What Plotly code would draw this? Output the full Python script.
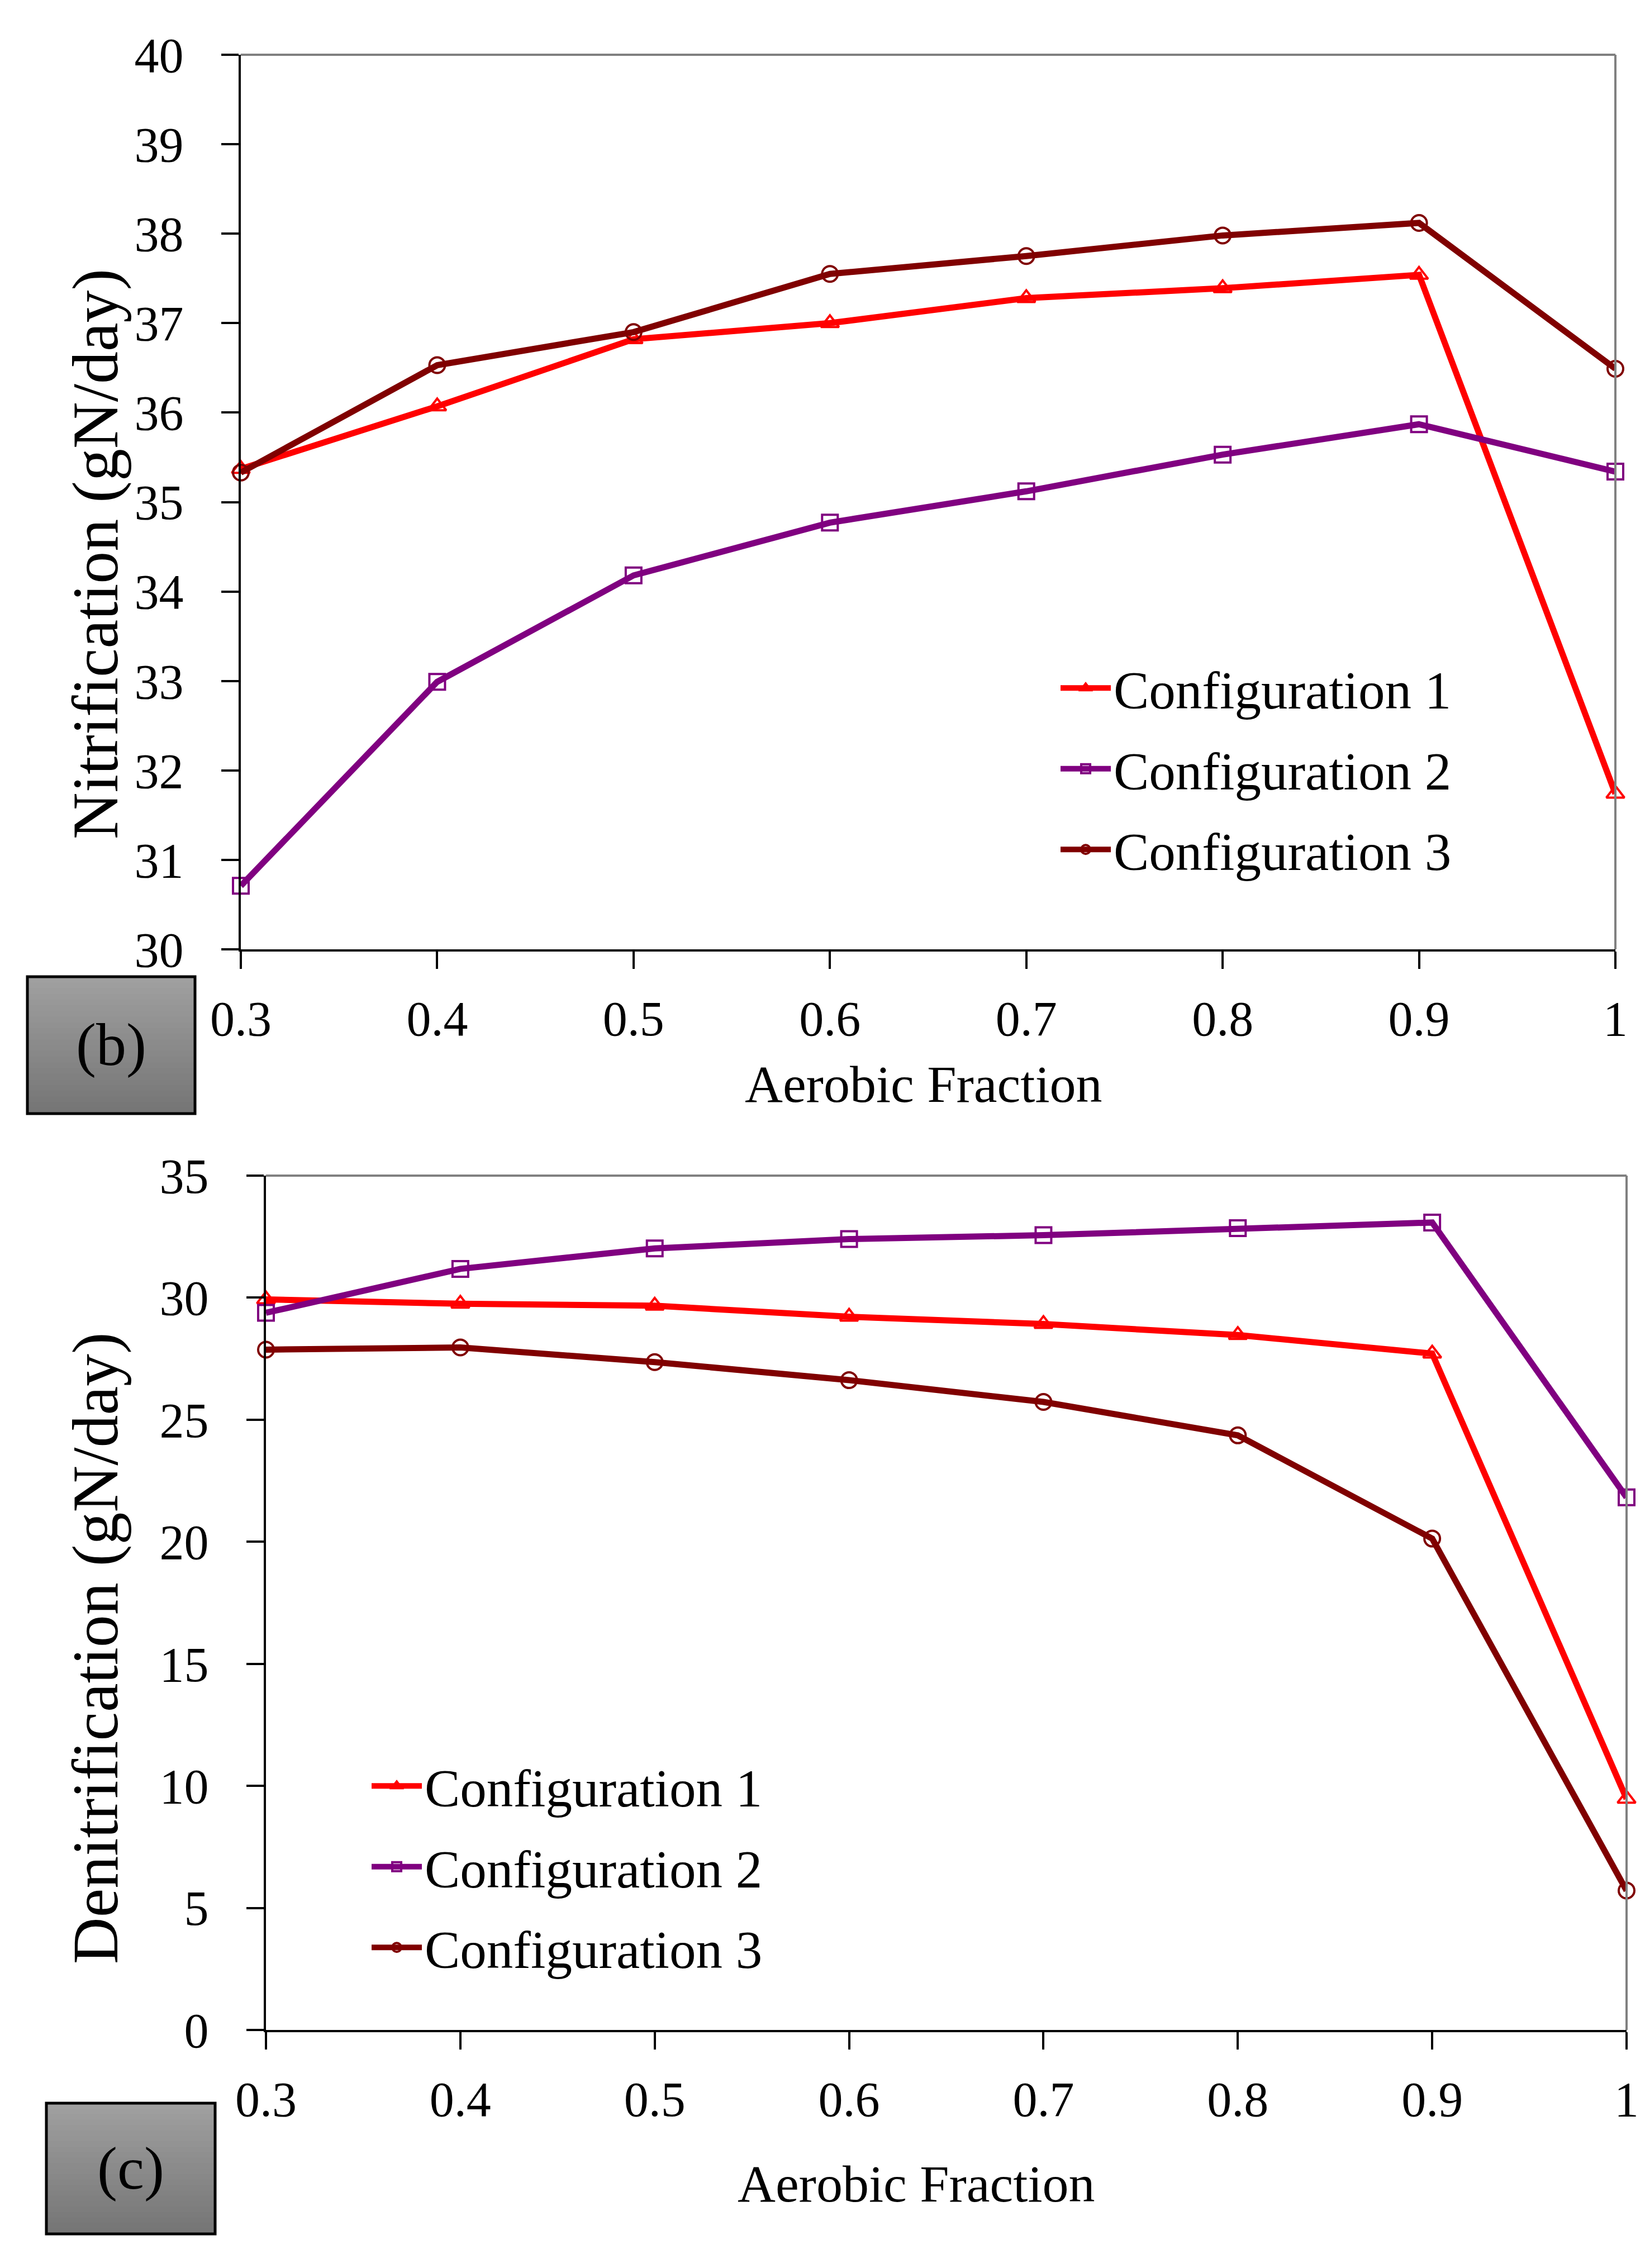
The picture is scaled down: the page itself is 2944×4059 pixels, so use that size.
import plotly.graph_objects as go

W, H = 2944, 4059

# data
aerobic_fraction = [0.3, 0.4, 0.5, 0.6, 0.7, 0.8, 0.9, 1.0]
x_tick_text = ["0.3", "0.4", "0.5", "0.6", "0.7", "0.8", "0.9", "1"]
series_names = ["Configuration 1", "Configuration 2", "Configuration 3"]

nitr_cfg1 = [35.37, 36.07, 36.82, 37.00, 37.28, 37.39, 37.54, 31.74]
nitr_cfg2 = [30.71, 32.99, 34.18, 34.77, 35.12, 35.53, 35.87, 35.34]
nitr_cfg3 = [35.33, 36.53, 36.90, 37.55, 37.75, 37.98, 38.12, 36.49]

denit_cfg1 = [29.93, 29.75, 29.67, 29.22, 28.92, 28.47, 27.71, 9.47]
denit_cfg2 = [29.38, 31.18, 32.02, 32.40, 32.56, 32.85, 33.08, 21.82]
denit_cfg3 = [27.87, 27.96, 27.36, 26.62, 25.73, 24.36, 20.13, 5.71]

colors = ["#ff0000", "#800080", "#800000"]
symbols = ["triangle-up-open", "square-open", "circle-open"]
FONT = "Liberation Serif"


def px_x(p):
    return p / W


def px_y(p):
    return 1 - p / H


fig = go.Figure()

for i, ys in enumerate([nitr_cfg1, nitr_cfg2, nitr_cfg3]):
    fig.add_trace(go.Scatter(
        x=aerobic_fraction, y=ys, name=series_names[i], mode="lines+markers",
        line=dict(color=colors[i], width=11),
        marker=dict(symbol=symbols[i], size=28, color=colors[i], line=dict(width=4, color=colors[i])),
        cliponaxis=False, xaxis="x", yaxis="y", legend="legend", legendgroup="a%d" % i,
    ))

for i, ys in enumerate([denit_cfg1, denit_cfg2, denit_cfg3]):
    fig.add_trace(go.Scatter(
        x=aerobic_fraction, y=ys, name=series_names[i], mode="lines+markers",
        line=dict(color=colors[i], width=11),
        marker=dict(symbol=symbols[i], size=28, color=colors[i], line=dict(width=4, color=colors[i])),
        cliponaxis=False, xaxis="x2", yaxis="y2", legend="legend2", legendgroup="b%d" % i,
    ))

tick_font = dict(family=FONT, size=88, color="black")
xa = dict(range=[0.3, 1.0], tickvals=aerobic_fraction, ticktext=x_tick_text,
          showline=True, linecolor="black", linewidth=4, ticks="outside", ticklen=31,
          tickwidth=4, tickcolor="black", showgrid=False, zeroline=False,
          tickfont=tick_font, ticklabelstandoff=13, automargin=False)
ya = dict(showline=True, linecolor="black", linewidth=4, ticks="outside", ticklen=31,
          tickwidth=4, tickcolor="black", showgrid=False, zeroline=False,
          tickfont=tick_font, ticklabelstandoff=50, automargin=False)

legend_common = dict(xanchor="left", yanchor="top",
                     font=dict(family=FONT, size=95, color="black"), bgcolor="rgba(0,0,0,0)",
                     itemwidth=90, tracegroupgap=18, traceorder="grouped")

fig.update_layout(
    width=W, height=H, autosize=False,
    margin=dict(l=0, r=0, t=0, b=0, autoexpand=False),
    paper_bgcolor="white", plot_bgcolor="white",
    xaxis=dict(xa, domain=[px_x(423), px_x(2883)], anchor="y"),
    yaxis=dict(ya, domain=[px_y(1691), px_y(90)], range=[30, 40], dtick=1, anchor="x"),
    xaxis2=dict(xa, domain=[px_x(468), px_x(2903)], anchor="y2"),
    yaxis2=dict(ya, domain=[px_y(3625), px_y(2096)], range=[0, 35], dtick=5, anchor="x2"),
    legend=dict(legend_common, x=px_x(1885), y=px_y(1155)),
    legend2=dict(legend_common, x=px_x(652), y=px_y(3120)),
)

# grey top/right frame
for xr, yr in [("x domain", "y domain"), ("x2 domain", "y2 domain")]:
    fig.add_shape(type="line", xref=xr, yref=yr, x0=0, x1=1, y0=1, y1=1,
                  line=dict(color="#808080", width=4))
    fig.add_shape(type="line", xref=xr, yref=yr, x0=1, x1=1, y0=0, y1=1,
                  line=dict(color="#808080", width=4))


def note(text, cx, cy, size, angle=0):
    fig.add_annotation(text=text, x=px_x(cx), y=px_y(cy), xref="paper", yref="paper",
                       xanchor="center", yanchor="middle", textangle=angle, showarrow=False,
                       font=dict(family=FONT, size=size, color="black"))


# axis titles
note("Nitrification (gN/day)", 163, 984, 116, -90)
note("Denitrification (gN/day)", 163, 2942, 116, -90)
note("Aerobic Fraction", 1645, 1932, 94)
note("Aerobic Fraction", 1632, 3900, 94)

# grey gradient panel labels
for label, (x0, y0, x1, y1) in [("(b)", (41, 1740, 341, 1985)), ("(c)", (75, 3756, 377, 3990))]:
    n = 24
    for k in range(n):
        g = int(160 - (160 - 118) * k / (n - 1))
        ya0 = y0 + (y1 - y0) * k / n
        ya1 = y0 + (y1 - y0) * (k + 1) / n
        fig.add_shape(type="rect", xref="paper", yref="paper",
                      x0=px_x(x0), x1=px_x(x1), y0=px_y(ya0), y1=px_y(ya1 + 1),
                      line=dict(width=0), fillcolor="rgb(%d,%d,%d)" % (g, g, g))
    fig.add_shape(type="rect", xref="paper", yref="paper",
                  x0=px_x(x0), x1=px_x(x1), y0=px_y(y0), y1=px_y(y1),
                  line=dict(color="black", width=5))
    note(label, (x0 + x1) / 2, (y0 + y1) / 2, 108)

fig.write_html("out.html")
